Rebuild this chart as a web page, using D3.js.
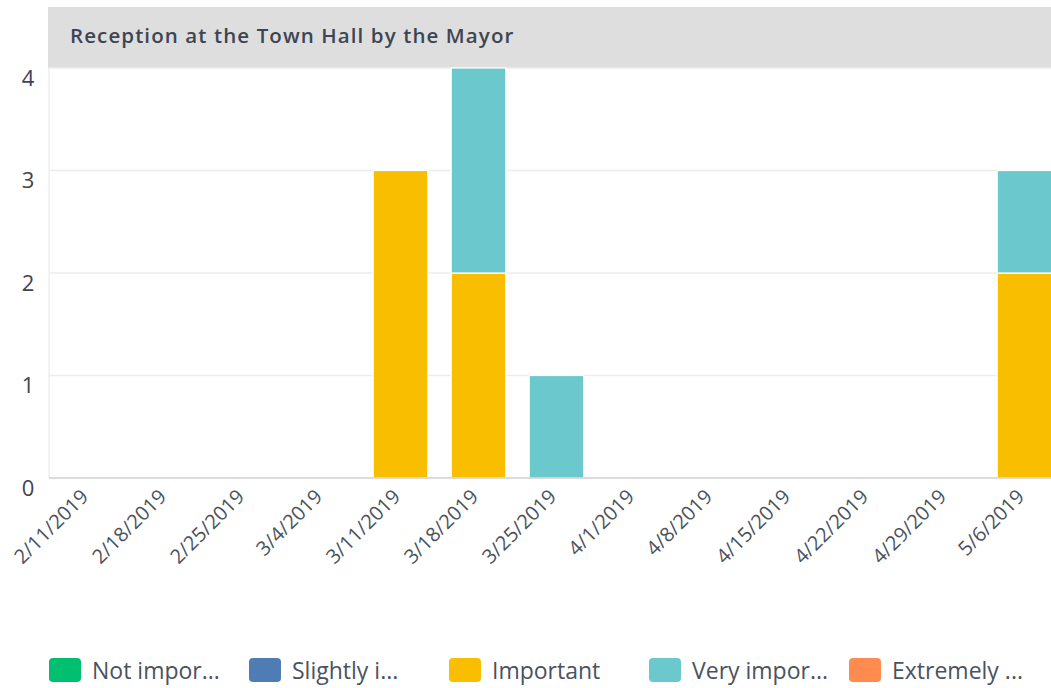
<!DOCTYPE html>
<html><head><meta charset="utf-8">
<script src="https://cdn.jsdelivr.net/npm/d3@7"></script>
<style>body{margin:0;background:#fff;overflow:hidden}svg{display:block}</style>
</head><body><svg id="c" width="1051" height="688"></svg>
<script>
const title = "Reception at the Town Hall by the Mayor";
const categories = ["2/11/2019","2/18/2019","2/25/2019","3/4/2019","3/11/2019","3/18/2019","3/25/2019","4/1/2019","4/8/2019","4/15/2019","4/22/2019","4/29/2019","5/6/2019"];
const seriesNames = ["Not important","Slightly important","Important","Very important","Extremely important"];
const legendLabels = ["Not impor...","Slightly i...","Important","Very impor...","Extremely ..."];
const seriesColors = ["#00bf6f","#507cb6","#f9be00","#6bc8cd","#ff8b4f"];
const notImportant =      [0,0,0,0,0,0,0,0,0,0,0,0,0];
const slightlyImportant = [0,0,0,0,0,0,0,0,0,0,0,0,0];
const important =         [0,0,0,0,3,2,0,0,0,0,0,0,2];
const veryImportant =     [0,0,0,0,0,2,1,0,0,0,0,0,1];
const extremelyImportant =[0,0,0,0,0,0,0,0,0,0,0,0,0];
const yTicks = [0,1,2,3,4];

const seriesValues = [notImportant, slightlyImportant, important, veryImportant, extremelyImportant];
const rows = categories.map((c,i)=>{const r={cat:c}; seriesNames.forEach((s,j)=>r[s]=seriesValues[j][i]); return r;});
const stack = d3.stack().keys(seriesNames)(rows);

const svg = d3.select("#c");
const font = "'Open Sans', sans-serif";
const pLeft = 49.5, pRight = 1063.5, pTop = 68, pBottom = 478;

// title band
svg.append("rect").attr("x",48).attr("y",7).attr("width",1051-48).attr("height",pTop-7).attr("fill","#dedede");
svg.append("text").attr("x",70).attr("y",43).text(title)
  .attr("font-family",font).attr("font-size",20.5).attr("font-weight",600).attr("fill","#3d4552")
  .style("letter-spacing","1.1px");

const x = d3.scaleBand().domain(categories).range([pLeft,pRight]).paddingInner(0.3).paddingOuter(0.15);
const y = d3.scaleLinear().domain([0,4]).range([pBottom,pTop]);

// plot left border
svg.append("line").attr("x1",49).attr("x2",49).attr("y1",pTop).attr("y2",pBottom).attr("stroke","#e6e6e6");

// grid
svg.append("g").selectAll("line").data(yTicks.filter(d=>d>0)).join("line")
  .attr("x1",49).attr("x2",1051).attr("y1",d=>y(d)).attr("y2",d=>y(d))
  .attr("stroke","#ececec").attr("stroke-width",1.5);

// y labels
const yAxis = svg.append("g").attr("transform",`translate(28,0)`)
  .call(d3.axisLeft(y).tickValues(yTicks).tickSize(0).tickPadding(0).tickFormat(d3.format("d")));
yAxis.select(".domain").remove();
yAxis.selectAll("text").attr("font-family",font).attr("font-size",22).attr("fill","#3d4552")
  .attr("text-anchor","middle").attr("dy","0.78em").attr("x",0);

// bars
svg.append("g").selectAll("g").data(stack).join("g")
  .attr("fill",(d,i)=>seriesColors[i])
  .selectAll("rect").data(d=>d.filter(s=>s[1]-s[0]>0)).join("rect")
  .attr("x",d=>x(d.data.cat)).attr("width",x.bandwidth())
  .attr("y",d=>y(d[1])).attr("height",d=>y(d[0])-y(d[1]))
  .attr("stroke","#fff").attr("stroke-width",1.2);

// x axis
const xAxis = svg.append("g").attr("transform",`translate(0,${pBottom})`)
  .call(d3.axisBottom(x).tickSize(0).tickPadding(0));
xAxis.select(".domain").attr("stroke","#cfcfcf").attr("stroke-width",1.5).attr("d",`M49,0H1051`);
xAxis.selectAll("text").attr("font-family",font).attr("font-size",20).attr("fill","#4a5260")
  .attr("text-anchor","end").attr("dy",0).attr("y",0)
  .attr("transform","translate(1,20) rotate(-45)");

// legend
const lg = svg.append("g").selectAll("g").data(seriesNames).join("g")
  .attr("transform",(d,i)=>`translate(${49+i*200},658)`);
lg.append("rect").attr("width",32).attr("height",24).attr("rx",4).attr("fill",(d,i)=>seriesColors[i]);
lg.append("text").attr("x",43).attr("y",21).text((d,i)=>legendLabels[i])
  .attr("font-family",font).attr("font-size",23).attr("fill","#4a5260");
</script></body></html>
